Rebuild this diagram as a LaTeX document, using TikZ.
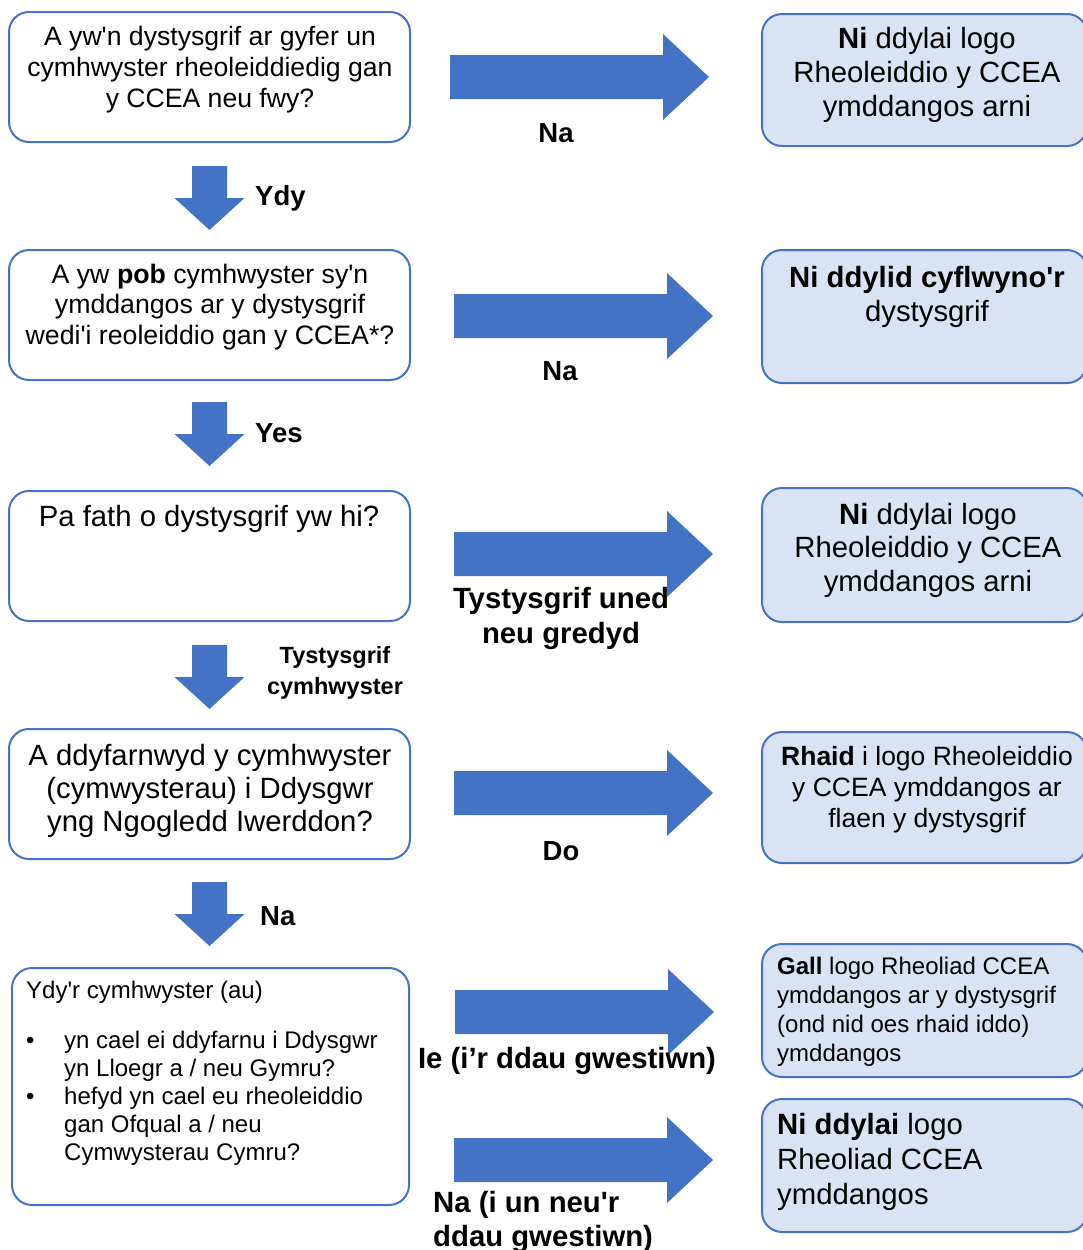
\documentclass[tikz,border=0pt]{standalone}
\usepackage{fontspec}
\setmainfont{Liberation Sans}[Ligatures=TeXOff]
\definecolor{ablue}{HTML}{4472C4}
\definecolor{lfill}{HTML}{DAE3F3}
\newcommand\myfs[2]{\fontsize{#1pt}{#2pt}\selectfont}
\newcommand\fst{\rule{0pt}{0.9em}}
\tikzset{
  lbox/.style={draw=ablue, line width=2pt, rounded corners=20pt, fill=white, inner sep=0pt},
  rbox/.style={lbox, fill=lfill, minimum width=325pt},
  qbox/.style={lbox, minimum width=401pt, minimum height=130pt},
  txt/.style={inner sep=0pt, anchor=north, align=center},
  ltxt/.style={inner sep=0pt, anchor=north west, align=left},
  lab/.style={inner sep=0pt, font=\bfseries\myfs{27.5}{32}},
  rarr/.pic={\fill[ablue] (0,-22) -- (213,-22) -- (213,-43) -- (259,0) -- (213,43) -- (213,22) -- (0,22) -- cycle;},
  darr/.pic={\fill[ablue] (-17.5,0) -- (17.5,0) -- (17.5,32) -- (35,32) -- (0,64) -- (-35,32) -- (-17.5,32) -- cycle;}
}
\begin{document}
\begin{tikzpicture}[x=1pt,y=-1pt]
\useasboundingbox (0,0) rectangle (1083,1250);
% left question boxes
\node[qbox] (q1) at (209.5,77) {};
\node[qbox] (q2) at (209.5,315) {};
\node[qbox] (q3) at (209.5,556) {};
\node[qbox] (q4) at (209.5,794) {};
\node[lbox, minimum width=397pt, minimum height=237pt] (q5) at (210.5,1086.5) {};
% right answer boxes
\node[rbox, minimum height=132pt] (r1) at (924.5,80) {};
\node[rbox, minimum height=133pt] (r2) at (924.5,316.5) {};
\node[rbox, minimum height=134pt] (r3) at (924.5,555) {};
\node[rbox, minimum height=131pt] (r4) at (924.5,797.5) {};
\node[rbox, minimum height=133pt] (r5) at (924.5,1010.5) {};
\node[rbox, minimum height=133pt] (r6) at (924.5,1165.5) {};
% block arrows
\pic at (450,77) {rarr};
\pic at (454,316) {rarr};
\pic at (454,554) {rarr};
\pic at (454,793) {rarr};
\pic at (455,1012) {rarr};
\pic at (454,1160) {rarr};
\pic at (209.5,166) {darr};
\pic at (209.5,402) {darr};
\pic at (209.5,645) {darr};
\pic at (209.5,882) {darr};
% question texts
\node[txt, font=\myfs{26.6}{31}] (q1t) at (210,21.1) {\fst A yw'n dystysgrif ar gyfer un\\cymhwyster rheoleiddiedig gan\\y CCEA neu fwy?};
\node[txt, font=\myfs{26.7}{30.5}] (q2t) at (210,259) {\fst A yw \textbf{pob} cymhwyster sy'n\\ymddangos ar y dystysgrif\\wedi'i reoleiddio gan y CCEA*?};
\node[txt, font=\myfs{29.3}{33}] (q3t) at (209,499.6) {\fst Pa fath o dystysgrif yw hi?};
\node[txt, font=\myfs{29.3}{33}] (q4t) at (210,738.6) {\fst A ddyfarnwyd y cymhwyster\\(cymwysterau) i Ddysgwr\\yng Ngogledd Iwerddon?};
\node[ltxt, font=\myfs{24}{28}] (q5t) at (26,976.4) {\fst Ydy'r cymhwyster (au)\\[22pt]
\makebox[38pt][l]{\textbullet}yn cael ei ddyfarnu i Ddysgwr\\
\hspace*{38pt}yn Lloegr a / neu Gymru?\\
\makebox[38pt][l]{\textbullet}hefyd yn cael eu rheoleiddio\\
\hspace*{38pt}gan Ofqual a / neu\\
\hspace*{38pt}Cymwysterau Cymru?};
% answer texts
\node[txt, font=\myfs{29.3}{34}] (r1t) at (927,22) {\fst\textbf{Ni} ddylai logo\\Rheoleiddio y CCEA\\ymddangos arni};
\node[txt, font=\myfs{29.3}{34}] (r2t) at (927,260.6) {\fst\textbf{Ni ddylid cyflwyno'r}\\dystysgrif};
\node[txt, font=\myfs{29.3}{33.5}] (r3t) at (928,497.6) {\fst\textbf{Ni} ddylai logo\\Rheoleiddio y CCEA\\ymddangos arni};
\node[txt, font=\myfs{26.5}{31}] (r4t) at (927,741) {\fst\textbf{Rhaid} i logo Rheoleiddio\\y CCEA ymddangos ar\\flaen y dystysgrif};
\node[ltxt, font=\myfs{24}{29}] (r5t) at (777,953) {\fst\textbf{Gall} logo Rheoliad CCEA\\ymddangos ar y dystysgrif\\(ond nid oes rhaid iddo)\\ymddangos};
\node[ltxt, font=\myfs{29.3}{35}] (r6t) at (777,1107.6) {\fst\textbf{Ni ddylai} logo\\Rheoliad CCEA\\ymddangos};
% labels
\node[lab, anchor=base west] (l1) at (255,205) {Ydy};
\node[lab, anchor=base west] (l2) at (255,442) {Yes};
\node[txt, font=\bfseries\myfs{23.5}{31}] (l3) at (335,641.9) {\fst Tystysgrif\\cymhwyster};
\node[lab, anchor=base west] (l4) at (260,925) {Na};
\node[lab, anchor=base] (n1) at (556,142) {Na};
\node[lab, anchor=base] (n2) at (560,380) {Na};
\node[txt, font=\bfseries\myfs{29.3}{35}] (n3) at (561,581.6) {\fst Tystysgrif uned\\neu gredyd};
\node[lab, anchor=base] (n4) at (561,860) {Do};
\node[inner sep=0pt, anchor=base, font=\bfseries\myfs{29.3}{35}] (n5) at (567,1068) {Ie (i’r ddau gwestiwn)};
\node[ltxt, font=\bfseries\myfs{29.3}{34}] (n6) at (433,1185.6) {\fst Na (i un neu'r\\ddau gwestiwn)};
\end{tikzpicture}
\end{document}
